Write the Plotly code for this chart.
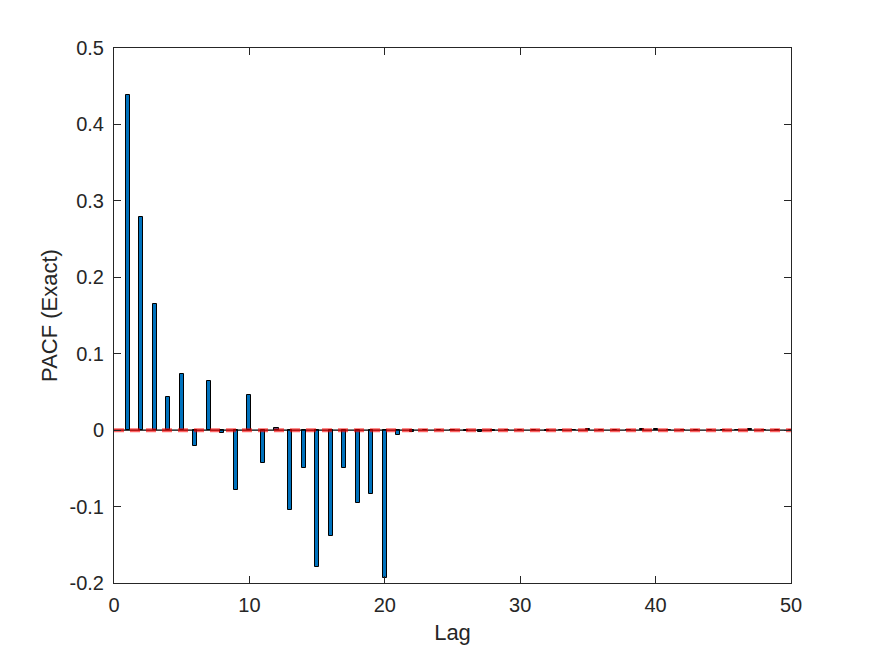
"""PACF stem-style bar chart, MATLAB look."""

import plotly.graph_objects as go

# ---------------------------------------------------------------------------
# Data
# ---------------------------------------------------------------------------

lags = list(range(1, 51))
pacf = [
    0.438, 0.279, 0.165, 0.043, 0.073, -0.021, 0.064, -0.004, -0.078, 0.046,
    -0.043, 0.003, -0.104, -0.049, -0.179, -0.138, -0.049, -0.095, -0.083, -0.193,
    -0.006, -0.002, 0.000, 0.000, 0.000, -0.001, -0.002, -0.001, 0.000, 0.000,
    0.000, -0.001, 0.000, 0.000, 0.002, 0.000, 0.000, 0.000, 0.001, 0.001,
    0.000, 0.000, 0.000, 0.000, 0.000, 0.000, 0.001, 0.000, 0.000, 0.000,
]
ref_x = [0, 50]
ref_y = [0, 0]

x_ticks = [0, 10, 20, 30, 40, 50]
y_ticks = [-0.2, -0.1, 0, 0.1, 0.2, 0.3, 0.4, 0.5]
y_labels = ["-0.2", "-0.1", "0", "0.1", "0.2", "0.3", "0.4", "0.5"]

AXIS = "#262626"

fig = go.Figure()

fig.add_trace(go.Bar(
    x=lags, y=pacf, width=0.3,
    marker=dict(color="#0072BD", line=dict(color="black", width=1)),
    showlegend=False,
))

# baseline
fig.add_trace(go.Scatter(
    x=ref_x, y=ref_y, mode="lines",
    line=dict(color="black", width=1.2),
    showlegend=False,
))

# red dashed reference
fig.add_trace(go.Scatter(
    x=ref_x, y=ref_y, mode="lines",
    line=dict(color="rgba(255,0,0,0.6)", width=4, dash="10px,6px"),
    showlegend=False,
))

# page body has an 8px margin, so the figure sits at (8, 8)
fig.update_layout(
    width=875, height=656,
    margin=dict(l=106, r=92, t=40, b=81),
    paper_bgcolor="white", plot_bgcolor="white",
    font=dict(family="Liberation Sans, Arial, sans-serif", size=20, color=AXIS),
    bargap=0,
    xaxis=dict(
        range=[0, 50], tickvals=x_ticks,
        showgrid=False, zeroline=False,
        showline=True, linecolor=AXIS, linewidth=1, mirror="ticks",
        ticks="inside", ticklen=7, tickcolor=AXIS, ticklabelstandoff=4,
        title=dict(text="Lag", font=dict(size=22), standoff=9),
    ),
    yaxis=dict(
        range=[-0.2, 0.5], tickvals=y_ticks, ticktext=y_labels,
        showgrid=False, zeroline=False,
        showline=True, linecolor=AXIS, linewidth=1, mirror="ticks",
        ticks="inside", ticklen=7, tickcolor=AXIS, ticklabelstandoff=5,
        title=dict(text="PACF (Exact)", font=dict(size=22), standoff=5),
    ),
)

fig.write_html("out.html")
